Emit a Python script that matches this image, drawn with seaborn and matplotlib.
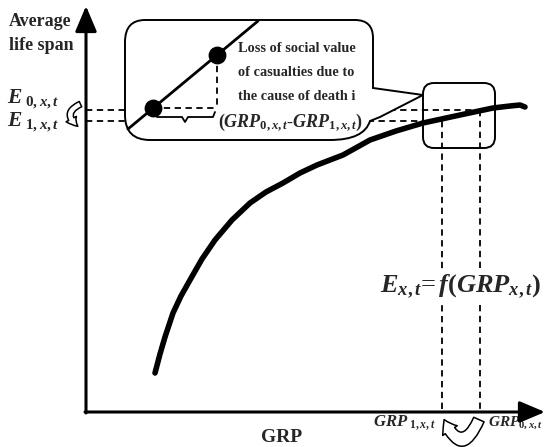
import matplotlib
matplotlib.use("Agg")
import matplotlib.pyplot as plt
import seaborn as sns
from matplotlib.patches import FancyBboxPatch, PathPatch, FancyArrowPatch
from matplotlib.path import Path

sns.set_theme(style="white")
plt.rcParams["font.family"] = ["Liberation Serif", "DejaVu Serif"]
plt.rcParams["mathtext.fontset"] = "custom"
plt.rcParams["mathtext.it"] = "Liberation Serif:italic:bold"
plt.rcParams["mathtext.rm"] = "Liberation Serif:bold"
plt.rcParams["mathtext.bf"] = "Liberation Serif:bold"

# ---- data (diagram coordinates) ----
curve_grp = [155, 160, 165, 173, 181, 190, 202, 215, 232, 250, 266, 283, 300, 317, 343, 370, 396, 423, 460, 493, 510, 520, 525]
curve_life = [373, 354, 337, 313, 296, 280, 259, 240, 220, 203, 192, 183, 173, 165, 155, 140, 131, 123, 115, 108, 106, 105, 107]
inset_x = [128, 258]
inset_y = [129, 21]
dots_x = [153, 217]
dots_y = [108, 55]
grp_levels = [480, 442]      # GRP_0, GRP_1
life_levels = [110, 121]     # E_0, E_1
callout_lines = ["Loss of social value", "of casualties due to", "the cause of death i"]

W, H = 546, 447
fig = plt.figure(figsize=(W / 100, H / 100), dpi=100)
ax = fig.add_axes([0, 0, 1, 1])
ax.set_xlim(0, W)
ax.set_ylim(H, 0)
ax.axis("off")

X0, Y0 = 86, 412
dash = dict(color="black", lw=1.3, linestyle=(0, (3.5, 2.5)))

# dashed guide lines
ax.plot([X0, grp_levels[0]], [life_levels[0]] * 2, zorder=2, **dash)
ax.plot([X0, grp_levels[1]], [life_levels[1]] * 2, zorder=2, **dash)
ax.plot([grp_levels[0]] * 2, [life_levels[0], Y0], zorder=2, **dash)
ax.plot([grp_levels[1]] * 2, [life_levels[1], Y0], zorder=2, **dash)

# axes with arrows
ax.annotate("", xy=(X0, 6), xytext=(X0, Y0 + 1),
            arrowprops=dict(arrowstyle="-|>,head_length=1.3,head_width=0.55",
                            lw=2.2, color="black", mutation_scale=12, shrinkA=0, shrinkB=0), zorder=6)
ax.annotate("", xy=(545, Y0), xytext=(X0 - 1, Y0),
            arrowprops=dict(arrowstyle="-|>,head_length=1.3,head_width=0.55",
                            lw=2.2, color="black", mutation_scale=12, shrinkA=0, shrinkB=0), zorder=6)

# main curve
sns.lineplot(x=curve_grp, y=curve_life, sort=False, estimator=None, ax=ax,
             color="black", lw=4.0, zorder=5, legend=False)
ax.set_xlim(0, W)
ax.set_ylim(H, 0)
ax.axis("off")

# zoom box
ax.add_patch(FancyBboxPatch((423, 83), 72, 65, boxstyle="round,pad=0,rounding_size=11",
                            fc="none", ec="black", lw=1.4, zorder=4))

# speech bubble
M, L, C = Path.MOVETO, Path.LINETO, Path.CURVE3
verts = [(145, 20), (355, 20), (373, 20), (373, 38), (373, 88), (423, 95), (380, 117), (370, 121),
         (364, 140), (330, 140), (150, 140), (125, 140), (125, 115), (125, 42), (125, 20), (145, 20), (145, 20)]
codes = [M, L, C, C, L, L, L, L, C, C, L, C, C, L, C, C, Path.CLOSEPOLY]
ax.add_patch(PathPatch(Path(verts, codes), fc="white", ec="black", lw=1.4, zorder=3))

# inset line, dots and guides
ax.plot(inset_x, inset_y, color="black", lw=2.0, zorder=4)
ax.scatter(dots_x, dots_y, s=140, color="black", zorder=5)
ax.plot([dots_x[0], dots_x[1]], [dots_y[0]] * 2, zorder=4, **dash)
ax.plot([dots_x[1]] * 2, [dots_y[1], dots_y[0]], zorder=4, **dash)
ax.plot([155, 157, 182, 185, 188, 213, 215], [112, 117, 117, 122, 117, 117, 112],
        color="black", lw=1.3, zorder=4)

for i, t in enumerate(callout_lines):
    ax.text(238, 48 + 24.5 * i, t, fontsize=10.3, fontweight="bold", ha="left", va="center", zorder=6)
ax.text(218, 123, r"$(GRP_{\mathit{0,x,t}}$-$GRP_{\mathit{1,x,t}})$", fontsize=13,
        ha="left", va="center", zorder=6)

# left labels
ax.text(9, 22, "Average", fontsize=13, fontweight="bold", ha="left", va="center")
ax.text(9, 45, "life span", fontsize=13, fontweight="bold", ha="left", va="center")
ax.text(7, 99, r"$E_{\ \mathit{0,x,t}}$", fontsize=15.5, ha="left", va="center")
ax.text(7, 122, r"$E_{\ \mathit{1,x,t}}$", fontsize=15.5, ha="left", va="center")

# curved arrows
ax.add_patch(FancyArrowPatch((83, 103), (80, 128), connectionstyle="arc3,rad=0.9",
                             arrowstyle="simple,head_length=0.5,head_width=0.6,tail_width=0.3",
                             mutation_scale=14, fc="white", ec="black", lw=1.1, zorder=6))
ax.add_patch(FancyArrowPatch((480, 417), (443, 417), connectionstyle="arc3,rad=-1.2",
                             arrowstyle="simple,head_length=0.5,head_width=0.7,tail_width=0.45",
                             mutation_scale=18, fc="white", ec="black", lw=1.1, zorder=6))

# bottom labels
ax.text(282, 437, "GRP", fontsize=14, fontweight="bold", ha="center", va="center")
ax.text(436, 423, r"$GRP_{\ \mathit{1,x,t}}$", fontsize=12, ha="right", va="center")
ax.text(488, 423, r"$GRP_{\mathit{0,x,t}}$", fontsize=11, ha="left", va="center")

# function label
ax.text(460, 287, r"$E_{\mathit{x,t}}$=$\,f(GRP_{\mathit{x,t}})$", fontsize=19, ha="center", va="center",
        zorder=7, bbox=dict(boxstyle="square,pad=0.15", fc="white", ec="none"))

fig.savefig("out.png", dpi=100)
